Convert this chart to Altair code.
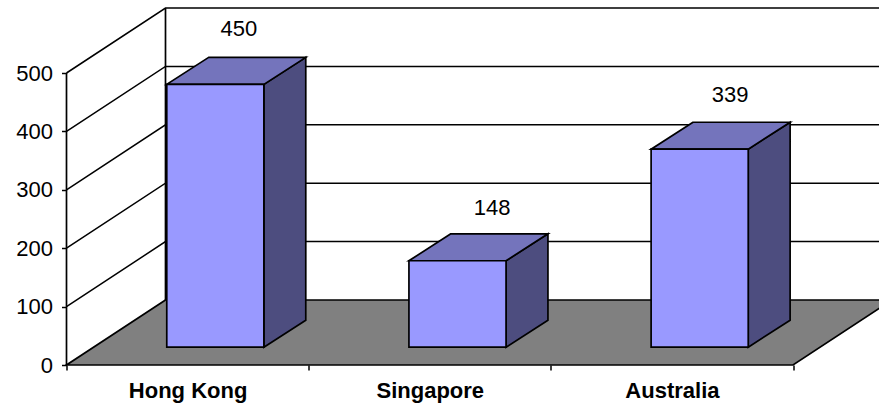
import altair as alt
import pandas as pd

# Chart values
categories = ["Hong Kong", "Singapore", "Australia"]
values = [450, 148, 339]
y_ticks = [0, 100, 200, 300, 400, 500]

FONT = "Liberation Sans"

# Projection of the pseudo-3D box, in axis units (x: category slots, y: value units)
SLOT_MAX = 3.355
Y_MAX = 625
WALL_DX = 0.4088
WALL_DY = 111.3
BAR_LEFT = 0.414
BAR_W = 0.401
BAR_BASE = 30.5
BAR_DX = 0.173
BAR_DY = 46.2

# Value captions sit above each box, shifted toward the back wall
LABEL_SHIFT = {"Hong Kong": (0.097, 95), "Singapore": (0.143, 91), "Australia": (0.126, 92)}

x_scale = alt.Scale(domain=[0, SLOT_MAX], nice=False, zero=False)
y_scale = alt.Scale(domain=[0, Y_MAX], nice=False, zero=False)

# Gridlines run up the side wall, then along the back wall
grid_rows = []
for t in y_ticks[1:]:
    grid_rows += [
        {"tick": t, "order": 0, "x": 0, "y": t},
        {"tick": t, "order": 1, "x": WALL_DX, "y": t + WALL_DY},
        {"tick": t, "order": 2, "x": SLOT_MAX, "y": t + WALL_DY},
    ]
grid = alt.Chart(pd.DataFrame(grid_rows)).mark_line(color="#000000", strokeWidth=1.5).encode(
    x=alt.X("x:Q", scale=x_scale, title=None,
            axis=alt.Axis(
                values=[0, 0.5, 1, 1.5, 2, 2.5, 3],
                labelExpr="datum.value === 0.5 ? 'Hong Kong' : datum.value === 1.5 ? 'Singapore' : datum.value === 2.5 ? 'Australia' : ''",
                tickOpacity={"condition": {"test": "datum.value % 1 !== 0", "value": 0}, "value": 1},
                domain=False, grid=False, tickSize=5, tickColor="#000000", tickWidth=1.5,
                labelAngle=0, labelFont=FONT, labelFontSize=22, labelFontWeight="bold",
                labelColor="#000000", labelPadding=10, labelOverlap=False, labelFlush=False,
            )),
    y=alt.Y("y:Q", scale=y_scale, title=None,
            axis=alt.Axis(
                values=y_ticks, domain=False, grid=False, tickSize=5, tickColor="#000000",
                tickWidth=1.5, labelFont=FONT, labelFontSize=22, labelColor="#000000",
                labelPadding=9, labelOverlap=False,
            )),
    detail="tick:N",
    order="order:Q",
)

# Side axis and the back wall's corner
left_axis = alt.Chart(pd.DataFrame({"x": [0], "y": [0], "y2": [y_ticks[-1]]})).mark_rule(
    color="#000000", strokeWidth=1.7
).encode(x=alt.X("x:Q", scale=x_scale), y=alt.Y("y:Q", scale=y_scale), y2="y2:Q")
back_corner = alt.Chart(pd.DataFrame({"x": [WALL_DX], "y": [WALL_DY], "y2": [y_ticks[-1] + WALL_DY]})).mark_rule(
    color="#000000", strokeWidth=1.7
).encode(x=alt.X("x:Q", scale=x_scale), y=alt.Y("y:Q", scale=y_scale), y2="y2:Q")

# Grey floor
floor_df = pd.DataFrame({
    "y": [0, WALL_DY],
    "x": [0, WALL_DX],
    "x2": [3, 3 + WALL_DX],
})
floor = alt.Chart(floor_df).mark_area(
    orient="horizontal", color="#808080", stroke="#000000", strokeWidth=1.7, opacity=1
).encode(x=alt.X("x:Q", scale=x_scale), x2="x2:Q", y=alt.Y("y:Q", scale=y_scale))

front_rows, top_rows, side_rows, label_rows = [], [], [], []
for i, (cat, v) in enumerate(zip(categories, values)):
    x0 = i + BAR_LEFT
    x1 = x0 + BAR_W
    top = BAR_BASE + v
    front_rows.append({"cat": cat, "x": x0, "x2": x1, "y": BAR_BASE, "y2": top})
    top_rows += [
        {"cat": cat, "y": top, "x": x0, "x2": x1},
        {"cat": cat, "y": top + BAR_DY, "x": x0 + BAR_DX, "x2": x1 + BAR_DX},
    ]
    side_rows += [
        {"cat": cat, "x": x1, "y": BAR_BASE, "y2": top},
        {"cat": cat, "x": x1 + BAR_DX, "y": BAR_BASE + BAR_DY, "y2": top + BAR_DY},
    ]
    dx, dy = LABEL_SHIFT[cat]
    label_rows.append({"x": (x0 + x1) / 2 + dx, "y": top + dy, "value": v})

front = alt.Chart(pd.DataFrame(front_rows)).mark_rect(
    color="#9999FF", stroke="#000000", strokeWidth=1.7
).encode(x=alt.X("x:Q", scale=x_scale), x2="x2:Q", y=alt.Y("y:Q", scale=y_scale), y2="y2:Q")

top_face = alt.Chart(pd.DataFrame(top_rows)).mark_area(
    orient="horizontal", color="#7474BC", stroke="#000000", strokeWidth=1.7, opacity=1
).encode(x=alt.X("x:Q", scale=x_scale), x2="x2:Q", y=alt.Y("y:Q", scale=y_scale), detail="cat:N")

side_face = alt.Chart(pd.DataFrame(side_rows)).mark_area(
    orient="vertical", color="#4D4D7F", stroke="#000000", strokeWidth=1.7, opacity=1
).encode(x=alt.X("x:Q", scale=x_scale), y=alt.Y("y:Q", scale=y_scale), y2="y2:Q", detail="cat:N")

labels = alt.Chart(pd.DataFrame(label_rows)).mark_text(
    font=FONT, fontSize=22, color="#000000", baseline="middle", align="center"
).encode(x=alt.X("x:Q", scale=x_scale), y=alt.Y("y:Q", scale=y_scale), text="value:Q")

chart = alt.layer(grid, back_corner, floor, left_axis, side_face, top_face, front, labels).properties(
    width=812.5,
    height=365,
    padding={"left": 66.5, "top": 0, "right": 0, "bottom": 40},
    autosize=alt.AutoSizeParams(type="none"),
    background="#FFFFFF",
).configure_view(stroke=None)

chart.save("out.html", embed_options={"renderer": "svg", "actions": False})
